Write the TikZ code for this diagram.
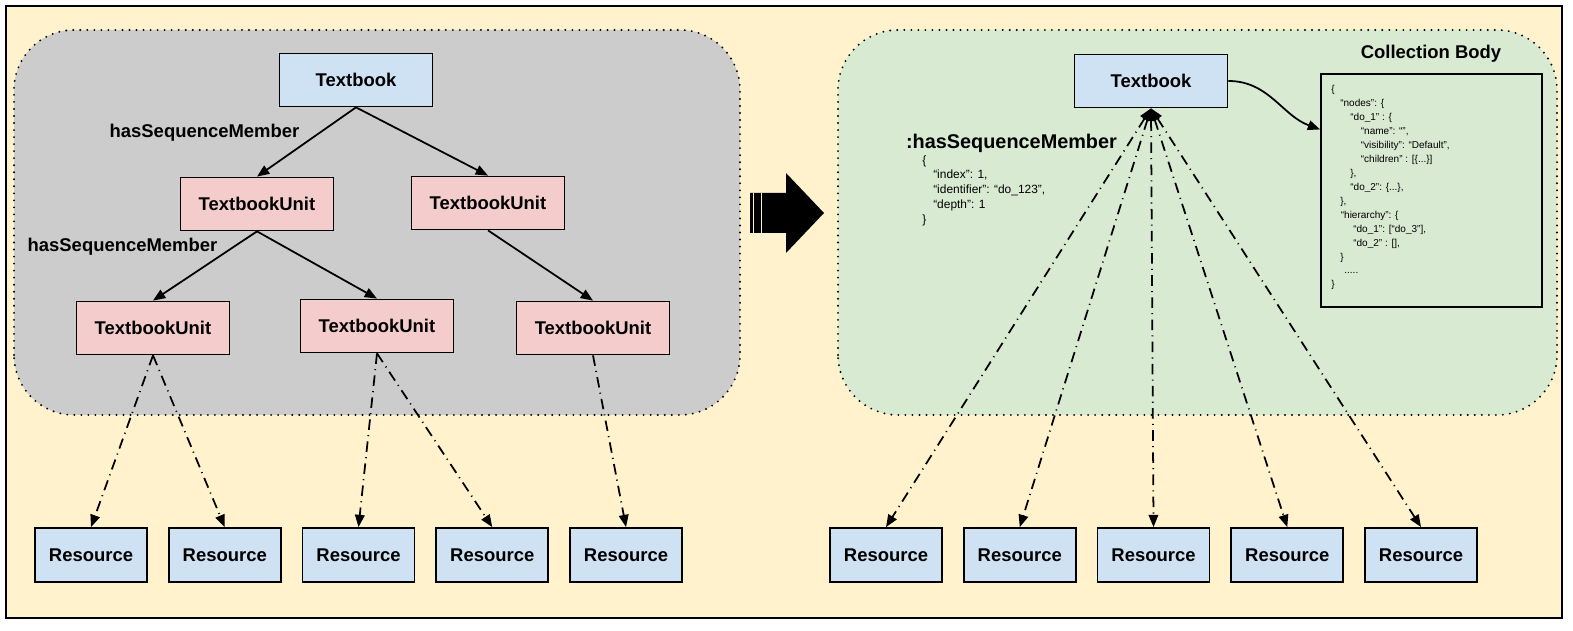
\documentclass[tikz,border=0pt]{standalone}
\usepackage{fontspec}
\setmainfont{Liberation Sans}
\usepackage{tikz}
\usetikzlibrary{positioning,arrows.meta,calc}

\definecolor{creambg}{HTML}{FFF2CC}
\definecolor{graypanel}{HTML}{CCCCCC}
\definecolor{greenpanel}{HTML}{D9EAD3}
\definecolor{bluebox}{HTML}{CFE2F3}
\definecolor{pinkbox}{HTML}{F4CCCC}

\begin{document}
\begin{tikzpicture}[
  book/.style={rectangle, draw, fill=bluebox, line width=1pt,
               minimum width=3.06cm, minimum height=1.06cm,
               font=\fontsize{10.5}{12}\selectfont\bfseries},
  unit/.style={book, fill=pinkbox},
  res/.style={book, minimum width=2.24cm, minimum height=1.08cm},
  rel/.style={font=\fontsize{10.5}{12}\selectfont\bfseries},
  code/.style={align=left, inner sep=0pt, anchor=north west},
  panel/.style={rounded corners=1.2cm, line width=1.2pt,
                dash pattern=on 0pt off 4pt, line cap=round},
  member/.style={->, line width=1pt},
  link/.style={line width=1pt, dash pattern=on 6pt off 3pt on 0.6pt off 3pt},
  >={Triangle[length=7pt,width=5.5pt]}
]
  \useasboundingbox (0,0) rectangle (31.46,12.62);
  \draw[fill=creambg, line width=0.8pt] (0.12,0.26) rectangle (31.24,12.5);
  \draw[panel, fill=graypanel] (0.28,4.32) rectangle (14.8,12.02);
  \draw[panel, fill=greenpanel] (16.76,4.32) rectangle (31.14,12.02);

  % before
  \node[book] (tb1) at (7.12,11.02) {Textbook};
  \node[unit] (ua) at (5.14,8.54) {TextbookUnit};
  \node[unit] (ub) at (9.76,8.56) {TextbookUnit};
  \node[unit] (uc) at (3.06,6.06) {TextbookUnit};
  \node[unit] (ud) at (7.54,6.10) {TextbookUnit};
  \node[unit] (ue) at (11.86,6.06) {TextbookUnit};
  \node[res] (r1) at (1.82,1.52) {Resource};
  \node[res, right=0.40cm of r1] (r2) {Resource};
  \node[res, right=0.40cm of r2] (r3) {Resource};
  \node[res, right=0.40cm of r3] (r4) {Resource};
  \node[res, right=0.40cm of r4] (r5) {Resource};
  \node[rel] (seq1) at (4.09,9.96) {hasSequenceMember};
  \node[rel] (seq2) at (2.45,7.68) {hasSequenceMember};

  \draw[member] (tb1.south) -- (ua.north);
  \draw[member] (tb1.south) -- (ub.north);
  \draw[member] (ua.south) -- (uc.north);
  \draw[member] (ua.south) -- (ud.north);
  \draw[member] (ub.south) -- (ue.north);
  \draw[link, ->] (uc.south) -- (r1.north);
  \draw[link, ->] (uc.south) -- (r2.north);
  \draw[link, ->] (ud.south) -- (r3.north);
  \draw[link, ->] (ud.south) -- (r4.north);
  \draw[link, ->] (ue.south) -- (r5.north);

  \fill (15.0,7.96) -- (15.72,7.96) -- (15.72,7.56) -- (16.48,8.36)
    -- (15.72,9.16) -- (15.72,8.76) -- (15.0,8.76) -- cycle;
  \draw[creambg, line width=0.3pt] (15.07,7.96) -- (15.07,8.76);
  \draw[creambg, line width=0.3pt] (15.23,7.96) -- (15.23,8.76);

  % after
  \node[book] (tb2) at (23.02,11.0) {Textbook};
  \node[res] (s1) at (17.72,1.52) {Resource};
  \node[res, right=0.40cm of s1] (s2) {Resource};
  \node[res, right=0.40cm of s2] (s3) {Resource};
  \node[res, right=0.40cm of s3] (s4) {Resource};
  \node[res, right=0.40cm of s4] (s5) {Resource};
  \node[rel, font=\fontsize{11.3}{13}\selectfont\bfseries] (seq3) at (20.23,9.76) {:hasSequenceMember};
  \node[code, font=\fontsize{6.8}{8.5}\selectfont] (seqbody) at (18.44,9.52)
    {\{\\
     \hspace*{6.2pt}“index”: 1,\\
     \hspace*{6.2pt}“identifier”: “do\_123”,\\
     \hspace*{6.2pt}“depth”: 1\\
     \}};
  \node[draw, line width=1pt, minimum width=4.42cm, minimum height=4.66cm] (body) at (28.63,8.81) {};
  \node[rel] (bodytitle) at (28.62,11.54) {Collection Body};
  \node[code, font=\fontsize{5.7}{7.94}\selectfont] (bodytext) at (26.62,10.92)
    {\{\\
     \hspace*{5.1pt}“nodes”: \{\\
     \hspace*{10.8pt}“do\_1” : \{\\
     \hspace*{16.8pt}“name”: “”,\\
     \hspace*{16.8pt}“visibility”: “Default”,\\
     \hspace*{16.8pt}“children” : [\{...\}]\\
     \hspace*{10.8pt}\},\\
     \hspace*{10.8pt}“do\_2”: \{...\},\\
     \hspace*{5.1pt}\},\\
     \hspace*{5.4pt}“hierarchy”: \{\\
     \hspace*{12.5pt}“do\_1”: [“do\_3”],\\
     \hspace*{12.5pt}“do\_2” : [],\\
     \hspace*{5.1pt}\}\\
     \hspace*{7.4pt}.....\\
     \}};

  \draw[->, line width=1pt] (tb2.east) to[out=0,in=160] ($(body.north west)!0.24!(body.south west)$);
  \foreach \s in {s1,s2,s3,s4,s5}
    \draw[link, <->] (tb2.south) -- (\s.north);
\end{tikzpicture}
\end{document}
